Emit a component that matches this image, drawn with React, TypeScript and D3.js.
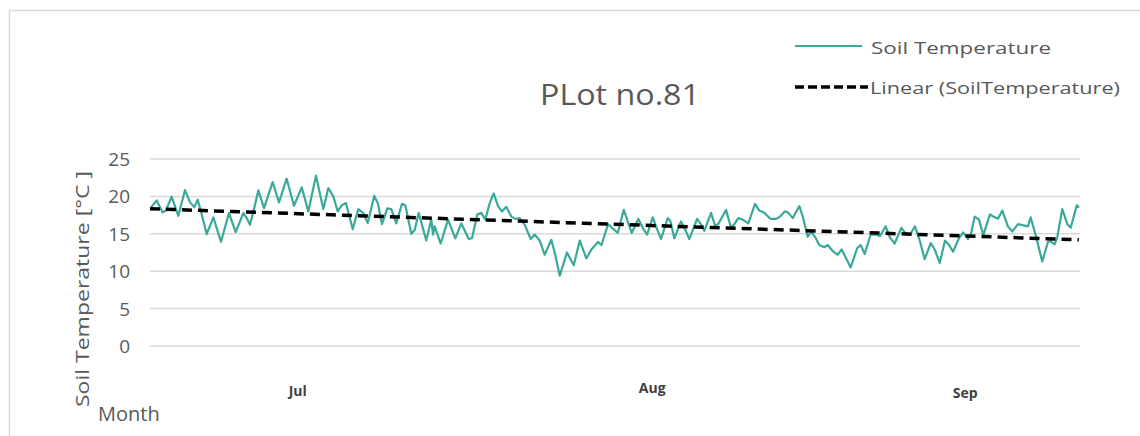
import React from "react";
import * as d3 from "d3";

// Day offsets from start of record and soil temperature values
const DAYS = [
  0.09, 0.61, 1.16, 1.43, 1.98, 2.59, 3.2, 3.66, 4.05, 4.36, 4.66, 5.18, 5.79, 6.49, 7.22, 7.83, 8.53, 8.84, 9.14, 9.6,
  9.9, 10.42, 11.21, 11.79, 12.49, 13.16, 13.87, 14.47, 15.17, 15.84, 16.3, 16.75, 17.16, 17.52, 17.91, 18.53, 19.04, 19.5, 19.9, 20.5,
  20.84, 21.2, 21.69, 22.05, 22.51, 23.03, 23.34, 23.88, 24.19, 24.56, 25.25, 25.71, 25.87, 26.02, 26.57, 27.24, 27.9, 28.45, 29.13, 29.43,
  29.92, 30.28, 30.65, 31.05, 31.41, 31.81, 32.17, 32.57, 33.02, 33.39, 33.79, 34.25, 34.8, 35.16, 35.62, 36.07, 36.68, 36.99, 37.45, 38.11,
  38.73, 39.28, 39.88, 40.34, 40.95, 41.26, 41.87, 42.75, 43.3, 43.66, 44.03, 44.63, 45.03, 45.43, 45.95, 46.25, 46.71, 47.32, 47.56, 47.92,
  48.53, 48.84, 49.29, 50.0, 50.3, 50.66, 51.28, 51.64, 51.94, 52.65, 53.1, 53.41, 53.77, 54.17, 54.68, 55.3, 55.69, 56.15, 56.7, 57.22,
  57.58, 58.04, 58.34, 58.75, 59.35, 59.66, 60.11, 60.42, 60.78, 61.17, 61.63, 61.94, 62.4, 62.85, 63.22, 64.04, 64.64, 64.95, 65.32, 65.87,
  66.23, 66.72, 67.24, 67.63, 68.06, 68.67, 68.98, 69.46, 69.92, 70.37, 70.8, 71.36, 71.72, 72.18, 72.66, 73.03, 73.39, 73.94, 74.33, 74.76,
  75.01, 75.37, 75.77, 76.16, 76.77, 77.08, 77.5, 77.9, 78.41, 78.81, 79.33, 79.94, 80.24, 80.49, 80.95, 81.55, 82.07, 82.32, 82.68, 82.92,
  83.38, 83.84, 84.15, 84.7, 84.91,
];
const TEMPS = [
  18.53, 19.46, 17.86, 18.08, 19.96, 17.41, 20.85, 19.2, 18.57, 19.55, 17.99, 14.96, 17.19, 13.93, 17.77, 15.22, 17.77, 17.1, 16.21, 18.88,
  20.8, 18.44, 21.92, 19.2, 22.37, 18.75, 21.21, 17.99, 22.77, 18.3, 21.12, 20.0, 17.99, 18.8, 19.11, 15.6, 18.3, 17.77, 16.43, 20.09,
  19.0, 16.3, 18.4, 18.3, 16.4, 19.0, 18.8, 15.0, 15.5, 17.8, 14.1, 16.9, 14.9, 16.0, 13.7, 16.9, 14.4, 16.4, 14.3, 14.4,
  17.6, 17.8, 16.9, 19.1, 20.4, 18.7, 18.0, 18.6, 17.3, 17.0, 17.1, 16.2, 14.3, 14.9, 14.1, 12.2, 14.2, 12.5, 9.4, 12.5,
  10.8, 14.1, 11.7, 12.9, 13.9, 13.5, 16.3, 15.1, 18.2, 16.7, 15.1, 17.0, 15.8, 14.9, 17.2, 16.0, 14.3, 17.1, 16.7, 14.4,
  16.65, 15.8, 14.3, 17.0, 16.4, 15.4, 17.8, 16.1, 16.3, 18.2, 15.8, 16.3, 17.1, 16.9, 16.4, 19.0, 18.1, 17.8, 17.0, 17.0,
  17.3, 18.0, 17.8, 17.1, 18.7, 17.3, 14.6, 15.3, 14.6, 13.5, 13.2, 13.5, 12.7, 12.2, 12.9, 10.5, 13.1, 13.5, 12.3, 14.9,
  14.9, 14.7, 16.0, 14.5, 13.7, 15.8, 15.2, 14.9, 16.0, 14.0, 11.6, 13.75, 12.9, 11.1, 14.1, 13.5, 12.6, 14.4, 15.2, 14.3,
  14.8, 17.3, 16.9, 14.8, 17.6, 17.3, 17.0, 18.1, 16.0, 15.3, 16.3, 16.1, 16.0, 17.2, 14.8, 11.3, 13.9, 14.0, 13.6, 14.5,
  18.3, 16.3, 15.8, 18.8, 18.5,
];

// Linear trendline endpoints
const TREND_DAYS = [0, 84.9];
const TREND_TEMPS = [18.35, 14.2];

const Y_TICKS = [0, 5, 10, 15, 20, 25];
const MONTHS = ["Jul", "Aug", "Sep"];
const MONTH_DAYS = [13.5, 45.9, 74.5];

const TITLE = "PLot no.81";
const Y_TITLE = "Soil Temperature [°C ]";
const X_TITLE = "Month";
const LEGEND = ["Soil Temperature", "Linear (SoilTemperature)"];

const TEAL = "#3aa99a";
const GRID = "#d9d9d9";
const TEXT = "#595959";

export default function App() {
  const x = d3.scaleLinear().domain([0, 85]).range([150, 1080]);
  const y = d3.scaleLinear().domain([0, 25]).range([346, 159]);

  const pts = DAYS.map((d, i) => [d, TEMPS[i]] as [number, number]);
  const line = d3
    .line<[number, number]>()
    .x((d) => x(d[0]))
    .y((d) => y(d[1]));
  const trend = TREND_DAYS.map((d, i) => [d, TREND_TEMPS[i]] as [number, number]);

  const font = "'Open Sans', 'Noto Sans', sans-serif";

  return (
    <svg
      width={1140}
      height={436}
      style={{ position: "absolute", left: 0, top: 0, background: "#fff" }}
      fontFamily={font}
    >
      <rect x={9.5} y={10.5} width={1140} height={440} fill="#fff" stroke={GRID} strokeWidth={1.5} />

      {Y_TICKS.map((t) => (
        <g key={t}>
          <line x1={150} x2={1080} y1={y(t)} y2={y(t)} stroke={GRID} strokeWidth={1.5} />
          <text x={130} y={y(t)} textAnchor="end" dominantBaseline="central" fontSize={19} fill={TEXT}>
            {t}
          </text>
        </g>
      ))}

      <path d={line(pts) || ""} fill="none" stroke={TEAL} strokeWidth={2.2} strokeLinejoin="round" />
      <path
        d={line(trend) || ""}
        fill="none"
        stroke="#000"
        strokeWidth={3.5}
        strokeDasharray="10,6"
      />

      {MONTHS.map((m, i) => (
        <text
          key={m}
          x={x(MONTH_DAYS[i])}
          y={[390, 387, 392][i]}
          textAnchor="middle"
          dominantBaseline="central"
          fontSize={14}
          fontWeight="bold"
          fill="#404040"
        >
          {m}
        </text>
      ))}

      <text
        x={620}
        y={93}
        textAnchor="middle"
        dominantBaseline="central"
        fontSize={29}
        fill={TEXT}
        textLength={160}
        lengthAdjust="spacingAndGlyphs"
      >
        {TITLE}
      </text>

      <text
        transform="translate(82,289) rotate(-90)"
        textAnchor="middle"
        dominantBaseline="central"
        fontSize={19}
        fill={TEXT}
        textLength={236}
        lengthAdjust="spacingAndGlyphs"
      >
        {Y_TITLE}
      </text>
      <text x={98} y={413} dominantBaseline="central" fontSize={20} fill={TEXT}>
        {X_TITLE}
      </text>

      <line x1={795} x2={862} y1={46} y2={46} stroke={TEAL} strokeWidth={2} />
      <text x={871} y={47} dominantBaseline="central" fontSize={17} fill={TEXT} textLength={180} lengthAdjust="spacingAndGlyphs">
        {LEGEND[0]}
      </text>
      <line x1={795} x2={868} y1={87} y2={87} stroke="#000" strokeWidth={3.5} strokeDasharray="9,4" />
      <text x={870} y={87} dominantBaseline="central" fontSize={17} fill={TEXT} textLength={250} lengthAdjust="spacingAndGlyphs">
        {LEGEND[1]}
      </text>
    </svg>
  );
}
